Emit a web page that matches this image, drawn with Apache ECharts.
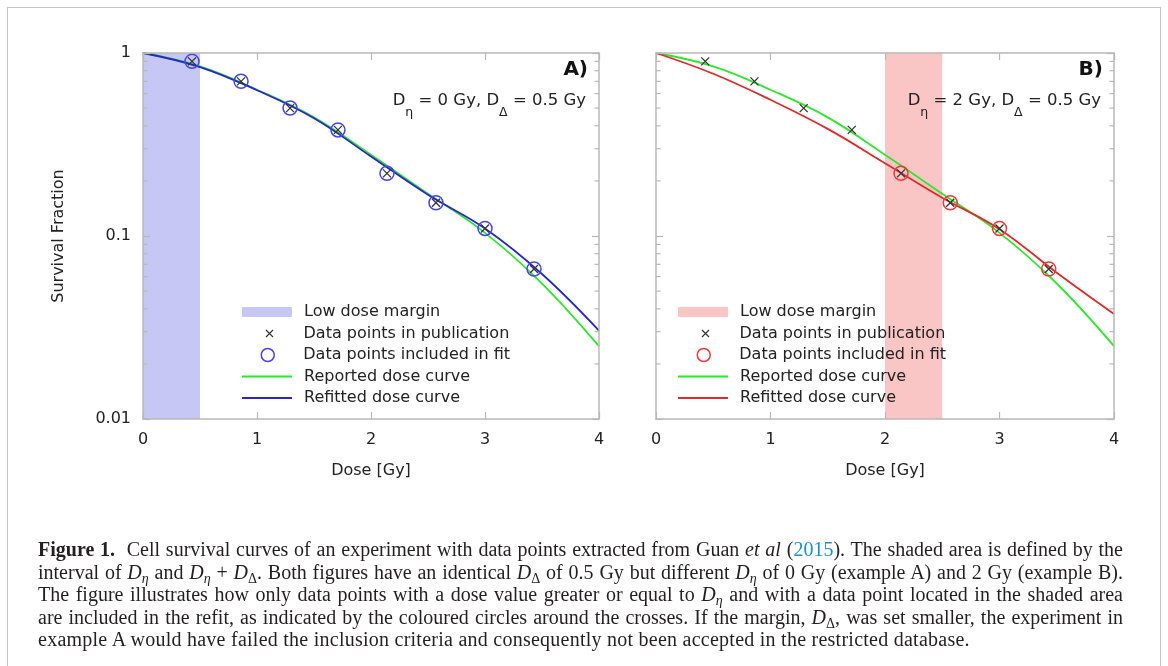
<!DOCTYPE html>
<html>
<head>
<meta charset="utf-8">
<script src="https://cdn.jsdelivr.net/npm/echarts@6/dist/echarts.min.js"></script>
<style>
html,body{margin:0;padding:0;background:#fff;}
#wrap{position:relative;width:1168px;height:666px;overflow:hidden;background:#fff;}
#frame{position:absolute;left:7px;top:7px;width:1154px;height:720px;border:1.5px solid #c4c4c4;box-sizing:border-box;}
#chart{position:absolute;left:0;top:0;width:1168px;height:666px;}
#caption{position:absolute;left:38px;top:538px;width:1085px;font-family:'Liberation Serif','Times New Roman',serif;font-size:20px;line-height:22.5px;color:#231f20;}
#caption .l{text-align:justify;text-align-last:justify;}
#caption .last{text-align:left;letter-spacing:0.25px;white-space:nowrap;}
#caption sub{font-size:70%;vertical-align:-0.3em;line-height:0;}
#caption .ref{color:#1a8fd0;}
</style>
</head>
<body>
<div id="wrap">
  <div id="frame"></div>
  <div id="chart"></div>
  <div id="caption">
    <div class="l"><b>Figure 1.</b>&nbsp; Cell survival curves of an experiment with data points extracted from Guan <i>et al</i> (<span class="ref">2015</span>). The shaded area is defined by the</div>
    <div class="l">interval of <i>D</i><sub><i>η</i></sub> and <i>D</i><sub><i>η</i></sub> + <i>D</i><sub>Δ</sub>. Both figures have an identical <i>D</i><sub>Δ</sub> of 0.5 Gy but different <i>D</i><sub><i>η</i></sub> of 0 Gy (example A) and 2 Gy (example B).</div>
    <div class="l">The figure illustrates how only data points with a dose value greater or equal to <i>D</i><sub><i>η</i></sub> and with a data point located in the shaded area</div>
    <div class="l">are included in the refit, as indicated by the coloured circles around the crosses. If the margin, <i>D</i><sub>Δ</sub>, was set smaller, the experiment in</div>
    <div class="last">example A would have failed the inclusion criteria and consequently not been accepted in the restricted database.</div>
  </div>
</div>
<script>
// ---- data ----
const doses = [0.43, 0.86, 1.29, 1.71, 2.14, 2.57, 3.0, 3.43];
const survival = [0.90, 0.70, 0.50, 0.38, 0.22, 0.152, 0.11, 0.066];
const curveDoses = [0, 0.5, 1, 1.5, 2, 2.5, 3, 3.5, 4];
const reportedCurve = [1, 0.845, 0.63, 0.445, 0.278, 0.17, 0.104, 0.055, 0.025];
const refitCurveA = [1, 0.838, 0.626, 0.44, 0.272, 0.168, 0.11, 0.062, 0.0304];
const refitCurveB = [1, 0.77, 0.555, 0.385, 0.25, 0.162, 0.109, 0.063, 0.0375];
const marginA = [0, 0.5];
const marginB = [2, 2.5];
const dEtaB = 2;
const xRange = [0, 4];
const yRange = [0.01, 1];
const minorTickValues = [0.02,0.03,0.04,0.05,0.06,0.07,0.08,0.09,0.2,0.3,0.4,0.5,0.6,0.7,0.8,0.9];
const legendNames = ['Low dose margin','Data points in publication','Data points included in fit','Reported dose curve','Refitted dose curve'];

// ---- styles ----
const FONT = 'DejaVu Sans';
const AX = '#b8b8b8';
const TXT = '#222';
const LAV = '#c6c7f5';
const PINK = '#f9c5c5';
const GREEN = '#2ee62e';
const BLUE = '#2626cc';
const RED = '#e02a2a';
const BLUEC = '#4545e6';
const REDC = '#ea3c3c';
const CROSS = 'path://M0,0L10,10M10,0L0,10';

const pts = doses.map((d, i) => [d, survival[i]]);
const curve = arr => curveDoses.map((d, i) => [d, arr[i]]);

function xAx(grid, pos, labels) {
  return {
    type: 'value', gridIndex: grid, position: pos, min: xRange[0], max: xRange[1], interval: 1, z: 10,
    axisLine: { show: true, onZero: false, lineStyle: { color: AX, width: 1.5 } },
    axisTick: { show: true, inside: true, length: 7, lineStyle: { color: AX, width: 1.2 } },
    axisLabel: { show: labels, margin: 13, fontSize: 16, color: TXT, fontFamily: FONT },
    splitLine: { show: false },
    name: labels ? 'Dose [Gy]' : '', nameLocation: 'middle', nameGap: 44,
    nameTextStyle: { fontSize: 16, color: TXT, fontFamily: FONT }
  };
}
function yAx(grid, pos, labels, name) {
  return {
    type: 'log', logBase: 10, gridIndex: grid, position: pos, min: yRange[0], max: yRange[1], z: 10,
    axisLine: { show: true, onZero: false, lineStyle: { color: AX, width: 1.5 } },
    axisTick: { show: true, inside: true, length: 7, lineStyle: { color: AX, width: 1.2 } },
    axisLabel: { show: labels, margin: 12, fontSize: 16, color: TXT, fontFamily: FONT },
    splitLine: { show: false }, minorTick: { show: false },
    name: name || '', nameLocation: 'middle', nameGap: 76,
    nameTextStyle: { fontSize: 16, color: TXT, fontFamily: FONT }
  };
}
function minorSeries(xi, yi) {
  return {
    type: 'custom', xAxisIndex: xi, yAxisIndex: yi, z: 11, silent: true, clip: false,
    data: minorTickValues.map(v => [xRange[0], v]),
    renderItem: (params, api) => {
      const v = api.value(1);
      const l = api.coord([xRange[0], v]);
      const r = api.coord([xRange[1], v]);
      return { type: 'group', children: [
        { type: 'line', shape: { x1: l[0], y1: l[1], x2: l[0] + 4.5, y2: l[1] }, style: { stroke: AX, lineWidth: 1.2 } },
        { type: 'line', shape: { x1: r[0] - 4.5, y1: r[1], x2: r[0], y2: r[1] }, style: { stroke: AX, lineWidth: 1.2 } }
      ]};
    }
  };
}
function panelSeries(p, xi, yi, margin, mColor, circlePts, cColor, refit, rColor) {
  return [
    { type: 'line', name: p + '|' + legendNames[0], xAxisIndex: xi, yAxisIndex: yi, data: [], symbol: 'none',
      itemStyle: { color: mColor }, lineStyle: { color: mColor },
      markArea: { silent: true, itemStyle: { color: mColor, opacity: 1 }, data: [[{ xAxis: margin[0] }, { xAxis: margin[1] }]] } },
    { type: 'line', name: p + '|' + legendNames[3], xAxisIndex: xi, yAxisIndex: yi, data: curve(reportedCurve),
      smooth: 0.4, symbol: 'none', z: 3, lineStyle: { color: GREEN, width: 1.8 }, itemStyle: { color: GREEN } },
    { type: 'line', name: p + '|' + legendNames[4], xAxisIndex: xi, yAxisIndex: yi, data: curve(refit),
      smooth: 0.4, symbol: 'none', z: 4, lineStyle: { color: rColor, width: 1.8 }, itemStyle: { color: rColor } },
    { type: 'scatter', name: p + '|' + legendNames[2], xAxisIndex: xi, yAxisIndex: yi, data: circlePts,
      symbol: 'circle', symbolSize: 14, z: 5,
      itemStyle: { color: 'rgba(0,0,0,0)', borderColor: cColor, borderWidth: 1.5, opacity: 1 } },
    { type: 'scatter', name: p + '|' + legendNames[1], xAxisIndex: xi, yAxisIndex: yi, data: pts,
      symbol: CROSS, symbolSize: 8, z: 6,
      itemStyle: { color: 'none', borderColor: '#333', borderWidth: 1.3, opacity: 1 } },
    minorSeries(xi, yi)
  ];
}
const legendRows = [312, 333.5, 355, 376.5, 398];
function panelLegends(p, iconLeft, textStart, mColor, cColor, rColor) {
  const iconCenter = iconLeft + 25;
  const defs = [
    { w: 50, h: 10, icon: 'rect', itemStyle: { color: mColor }, dx: 0 },
    { w: 7, h: 7, icon: CROSS, itemStyle: { color: 'none', borderColor: '#333', borderWidth: 1.2 }, dx: -3 },
    { w: 13, h: 13, icon: 'circle', itemStyle: { color: 'rgba(0,0,0,0)', borderColor: cColor, borderWidth: 1.5 }, dx: -1.5 },
    { w: 50, h: 2, icon: 'rect', itemStyle: { color: GREEN, borderWidth: 0 }, dx: 0 },
    { w: 50, h: 2, icon: 'rect', itemStyle: { color: rColor, borderWidth: 0 }, dx: 0 }
  ];
  return defs.map((d, i) => {
    const left = iconCenter - d.w / 2;
    const pad = textStart - (left + d.w + 5) + d.dx;
    const item = { name: p + '|' + legendNames[i], icon: d.icon, itemStyle: d.itemStyle };
    return {
      show: true, left: left, top: legendRows[i] - 9, padding: 0, itemWidth: d.w, itemHeight: d.h,
      selectedMode: false, data: [item], formatter: n => n.split('|')[1],
      textStyle: { fontSize: 16, color: TXT, fontFamily: FONT, lineHeight: 18, padding: [0, 0, 0, pad] }
    };
  });
}
function annot(letter, dEtaText, rightEdge) {
  return [
    { type: 'text', right: 1168 - rightEdge - 2, top: 60, z: 20,
      style: { text: letter, fill: '#111', font: 'bold 20px "DejaVu Sans"' } },
    { type: 'text', right: 1168 - rightEdge, top: 92, z: 20,
      style: { text: '{m|D}{s|η}{m| = ' + dEtaText + ' Gy, D}{s|Δ}{m| = 0.5 Gy}',
        rich: {
          m: { fontSize: 16.5, fontFamily: FONT, fill: TXT, color: TXT, lineHeight: 20, verticalAlign: 'top' },
          s: { fontSize: 12.5, fontFamily: FONT, fill: TXT, color: TXT, lineHeight: 12, padding: [14, 0, 0, 0], verticalAlign: 'top' }
        } } }
  ];
}

const chart = echarts.init(document.getElementById('chart'), null, { renderer: 'canvas' });
chart.setOption({
  animation: false,
  backgroundColor: 'transparent',
  grid: [
    { left: 143, top: 53, width: 456, height: 366 },
    { left: 656, top: 53, width: 458, height: 366 }
  ],
  xAxis: [xAx(0, 'bottom', true), xAx(0, 'top', false), xAx(1, 'bottom', true), xAx(1, 'top', false)],
  yAxis: [yAx(0, 'left', true, 'Survival Fraction'), yAx(0, 'right', false), yAx(1, 'left', false), yAx(1, 'right', false)],
  legend: panelLegends('A', 242, 304, LAV, BLUEC, BLUE).concat(panelLegends('B', 678, 740, PINK, REDC, RED)),
  graphic: annot('A)', '0', 586).concat(annot('B)', '2', 1101)),
  series: panelSeries('A', 0, 0, marginA, LAV, pts, BLUEC, refitCurveA, BLUE)
    .concat(panelSeries('B', 2, 2, marginB, PINK, pts.filter(p => p[0] >= dEtaB), REDC, refitCurveB, RED))
});
</script>
</body>
</html>
